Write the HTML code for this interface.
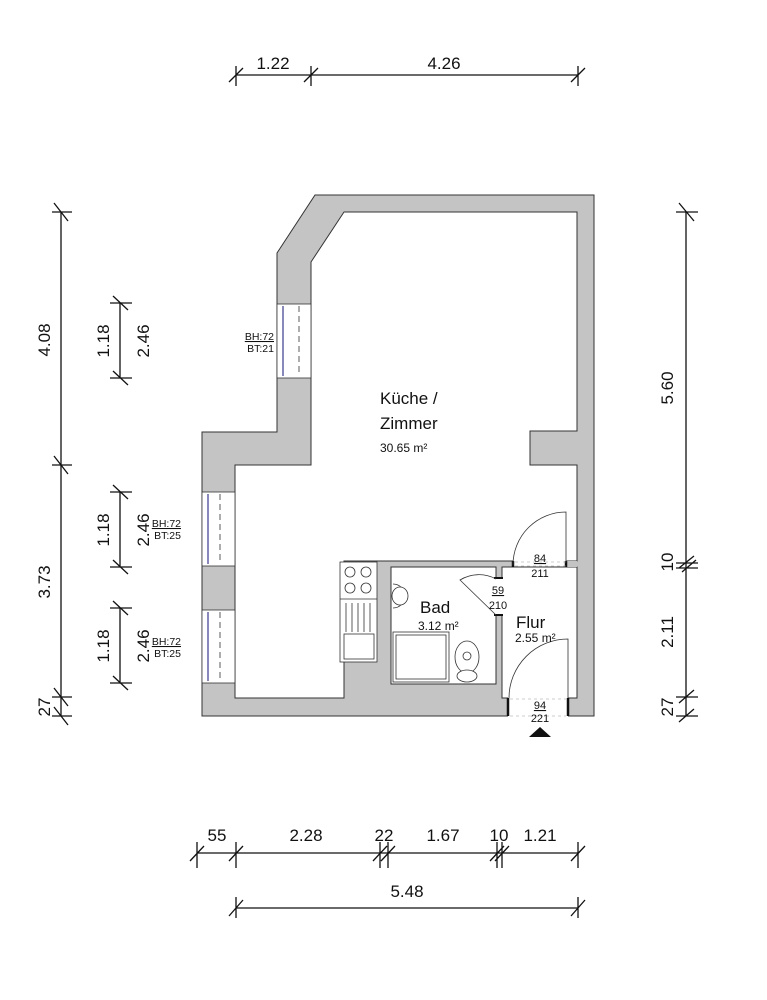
<!DOCTYPE html>
<html><head><meta charset="utf-8"><style>
html,body{margin:0;padding:0;background:#fff;}
svg{display:block;font-family:"Liberation Sans",sans-serif;}
</style></head><body>
<svg width="767" height="1000" viewBox="0 0 767 1000" xmlns="http://www.w3.org/2000/svg">
<path fill="#c4c4c4" stroke="#333" stroke-width="1" fill-rule="evenodd" d="
M315,195 L594,195 L594,716 L568,716 L568,698 L508,698 L508,716 L202,716 L202,432 L277,432 L277,253 Z
M344,212 L311,262 L311,465 L235,465 L235,698 L344,698 L344,561 L513,561 L513,567 L566,567 L566,561 L577,561 L577,465 L530,465 L530,431 L577,431 L577,212 Z"/>
<rect x="391" y="567" width="105" height="117" fill="#fff" stroke="#333"/>
<rect x="502" y="567" width="75" height="131" fill="#fff" stroke="#333"/>
<rect x="566" y="561" width="11" height="6" fill="#c4c4c4"/>
<rect x="508" y="697" width="60" height="20" fill="#fff"/>
<line x1="502" y1="698" x2="508" y2="698" stroke="#333"/>
<line x1="568" y1="698" x2="577" y2="698" stroke="#333"/>
<line x1="508" y1="698" x2="508" y2="716" stroke="#111" stroke-width="2.5"/>
<line x1="568" y1="698" x2="568" y2="716" stroke="#111" stroke-width="2.5"/>
<line x1="513" y1="561" x2="513" y2="567" stroke="#111" stroke-width="2.5"/>
<line x1="566" y1="561" x2="566" y2="567" stroke="#111" stroke-width="2.5"/>
<rect x="495" y="578" width="8" height="37" fill="#fff"/>
<line x1="494" y1="578" x2="503" y2="578" stroke="#111" stroke-width="2"/>
<line x1="494" y1="615" x2="503" y2="615" stroke="#111" stroke-width="2"/>
<path d="M496,615 L460,580 A36,36 0 0 1 496,579" fill="none" stroke="#333" stroke-width="0.8"/>
<path d="M513,565 A53,53 0 0 1 566,512 L566,562" fill="none" stroke="#333" stroke-width="0.8"/>
<path d="M509,698 A59,59 0 0 1 568,639 L568,698" fill="none" stroke="#333" stroke-width="0.8"/>
<line x1="515" y1="562" x2="566" y2="562" stroke="#999" stroke-dasharray="3,3" stroke-width="0.6"/>
<line x1="515" y1="566" x2="566" y2="566" stroke="#999" stroke-dasharray="3,3" stroke-width="0.6"/>
<line x1="510" y1="699" x2="566" y2="699" stroke="#999" stroke-dasharray="3,3" stroke-width="0.6"/>
<line x1="510" y1="716" x2="566" y2="716" stroke="#999" stroke-dasharray="3,3" stroke-width="0.6"/>
<g stroke="#333" stroke-width="0.8">
<rect x="277" y="304" width="34" height="74" fill="#fff"/>
<line x1="283" y1="306" x2="283" y2="376" stroke="#8888bb" stroke-width="2"/>
<line x1="299" y1="306" x2="299" y2="376" stroke-dasharray="6,4"/>
<rect x="202" y="492" width="33" height="74" fill="#fff"/>
<line x1="208" y1="494" x2="208" y2="564" stroke="#8888bb" stroke-width="2"/>
<line x1="220" y1="494" x2="220" y2="564" stroke-dasharray="6,4"/>
<rect x="202" y="610" width="33" height="73" fill="#fff"/>
<line x1="208" y1="612" x2="208" y2="681" stroke="#8888bb" stroke-width="2"/>
<line x1="220" y1="612" x2="220" y2="681" stroke-dasharray="6,4"/>
</g>
<g stroke="#333" stroke-width="0.8" fill="#fff">
<rect x="340" y="562" width="37" height="100"/>
<line x1="340" y1="599" x2="377" y2="599"/>
<circle cx="350" cy="572" r="5"/><circle cx="366" cy="572" r="5"/>
<circle cx="350" cy="588" r="5"/><circle cx="366" cy="588" r="5"/>
<line x1="346" y1="603" x2="346" y2="632"/><line x1="352" y1="603" x2="352" y2="632"/>
<line x1="358" y1="603" x2="358" y2="632"/><line x1="364" y1="603" x2="364" y2="632"/>
<line x1="370" y1="603" x2="370" y2="632"/>
<rect x="344" y="634" width="30" height="25"/>
<path d="M393,584 A12,12 0 0 1 393,608" />
<ellipse cx="400" cy="596" rx="8" ry="9"/>
<rect x="393" y="632" width="56" height="50"/>
<rect x="396" y="635" width="50" height="44"/>
<ellipse cx="467" cy="657" rx="12" ry="16"/>
<ellipse cx="467" cy="676" rx="10" ry="6"/>
<circle cx="467" cy="656" r="4"/>
</g>
<polygon points="529,737 551,737 540,727" fill="#111"/>
<g fill="#111">
<text x="380" y="404" font-size="17">Küche /</text>
<text x="380" y="429" font-size="17">Zimmer</text>
<text x="380" y="452" font-size="12">30.65 m²</text>
<text x="420" y="613" font-size="17">Bad</text>
<text x="418" y="630" font-size="12">3.12 m²</text>
<text x="516" y="628" font-size="17">Flur</text>
<text x="515" y="642" font-size="12">2.55 m²</text>
<g font-size="11" text-anchor="middle">
<text x="540" y="562" text-decoration="underline">84</text><text x="540" y="577">211</text>
<text x="498" y="594" text-decoration="underline">59</text><text x="498" y="609">210</text>
<text x="540" y="709" text-decoration="underline">94</text><text x="540" y="722">221</text>
</g>
<g font-size="10.5" text-anchor="end">
<text x="274" y="340" text-decoration="underline">BH:72</text><text x="274" y="352">BT:21</text>
<text x="181" y="527" text-decoration="underline">BH:72</text><text x="181" y="539">BT:25</text>
<text x="181" y="645" text-decoration="underline">BH:72</text><text x="181" y="657">BT:25</text>
</g>
</g>
<g stroke="#111" stroke-width="1.3" fill="none">
<line x1="236" y1="75" x2="578" y2="75"/>
<path d="M236,66 V86 M229,82 L243,68 M311,66 V86 M304,82 L318,68 M578,66 V86 M571,82 L585,68"/>
<line x1="61" y1="212" x2="61" y2="716"/>
<path d="M52,212 H72 M54,203 L68,221 M52,465 H72 M54,456 L68,474 M52,697 H72 M54,688 L68,706 M52,716 H72 M54,707 L68,725"/>
<line x1="120" y1="303" x2="120" y2="378"/>
<path d="M110,303 H132 M113,296 L128,310 M110,378 H132 M113,371 L128,385"/>
<line x1="120" y1="492" x2="120" y2="567"/>
<path d="M110,492 H132 M113,485 L128,499 M110,567 H132 M113,560 L128,574"/>
<line x1="120" y1="608" x2="120" y2="683"/>
<path d="M110,608 H132 M113,601 L128,615 M110,683 H132 M113,676 L128,690"/>
<line x1="686" y1="212" x2="686" y2="716"/>
<path d="M676,212 H698 M679,203 L694,221 M676,563 H698 M679,568 L694,556 M676,568 H698 M682,572 L696,560 M676,697 H698 M679,703 L694,690 M676,716 H698 M679,722 L694,709"/>
<line x1="197" y1="853" x2="578" y2="853"/>
<path d="M197,842 V868 M190,861 L204,846 M236,842 V868 M229,861 L243,846 M380,842 V868 M373,861 L387,846 M388,842 V868 M381,861 L395,846 M497,842 V868 M490,861 L504,846 M502,842 V868 M495,861 L509,846 M578,842 V868 M571,861 L585,846"/>
<line x1="236" y1="908" x2="578" y2="908"/>
<path d="M236,897 V918 M229,916 L243,900 M578,897 V918 M571,916 L585,900"/>
</g>
<g fill="#111" font-size="17" text-anchor="middle">
<text x="273" y="69">1.22</text>
<text x="444" y="69">4.26</text>
<text x="217" y="841">55</text>
<text x="306" y="841">2.28</text>
<text x="384" y="841">22</text>
<text x="443" y="841">1.67</text>
<text x="499" y="841">10</text>
<text x="540" y="841">1.21</text>
<text x="407" y="897">5.48</text>
<text transform="translate(50,340) rotate(-90)">4.08</text>
<text transform="translate(50,582) rotate(-90)">3.73</text>
<text transform="translate(50,707) rotate(-90)">27</text>
<text transform="translate(109,341) rotate(-90)">1.18</text>
<text transform="translate(149,341) rotate(-90)">2.46</text>
<text transform="translate(109,530) rotate(-90)">1.18</text>
<text transform="translate(149,530) rotate(-90)">2.46</text>
<text transform="translate(109,646) rotate(-90)">1.18</text>
<text transform="translate(149,646) rotate(-90)">2.46</text>
<text transform="translate(673,388) rotate(-90)">5.60</text>
<text transform="translate(673,562) rotate(-90)">10</text>
<text transform="translate(673,632) rotate(-90)">2.11</text>
<text transform="translate(673,707) rotate(-90)">27</text>
</g>
</svg>
</body></html>
